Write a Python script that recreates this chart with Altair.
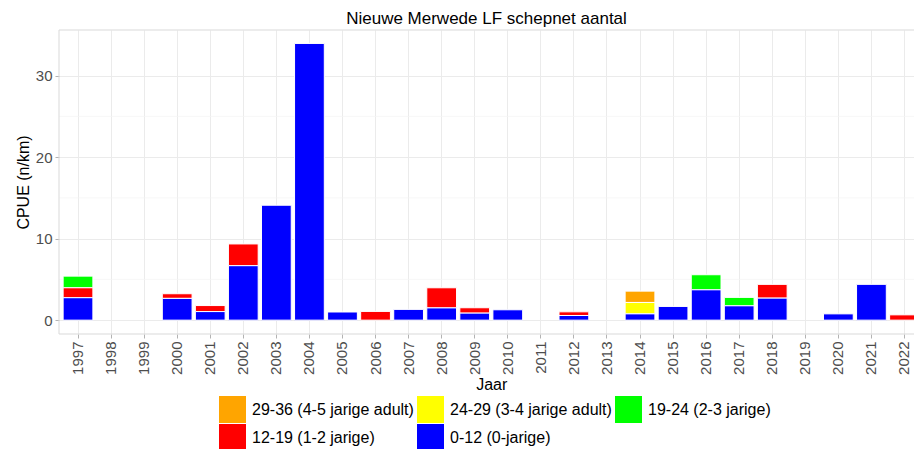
import altair as alt
import pandas as pd

years = list(range(1997, 2023))
classes = ["29-36 (4-5 jarige adult)", "24-29 (3-4 jarige adult)", "19-24 (2-3 jarige)",
           "12-19 (1-2 jarige)", "0-12 (0-jarige)"]
colors = ["#FFA500", "#FFFF00", "#00FF00", "#FF0000", "#0000FF"]
stack_rank = [4, 3, 2, 1, 0]

#        1997 1998 1999 2000  2001  2002  2003  2004  2005 2006  2007  2008  2009  2010  2011 2012  2013 2014  2015  2016  2017  2018  2019 2020  2021  2022
c0_12 = [2.75, 0, 0, 2.67, 1.05, 6.68, 14.1, 33.95, 1.0, 0, 1.32, 1.5, 0.86, 1.27, 0, 0.57, 0, 0.77, 1.68, 3.72, 1.76, 2.7, 0, 0.77, 4.39, 0]
c12_19 = [1.22, 0, 0, 0.57, 0.74, 2.67, 0, 0, 0, 1.07, 0, 2.47, 0.66, 0, 0, 0.45, 0, 0, 0, 0, 0, 1.69, 0, 0, 0, 0.65]
c19_24 = [1.43, 0, 0, 0, 0, 0, 0, 0, 0, 0, 0, 0, 0, 0, 0, 0, 0, 0, 0, 1.85, 1.03, 0, 0, 0, 0, 0]
c24_29 = [0, 0, 0, 0, 0, 0, 0, 0, 0, 0, 0, 0, 0, 0, 0, 0, 0, 1.4, 0, 0, 0, 0, 0, 0, 0, 0]
c29_36 = [0, 0, 0, 0, 0, 0, 0, 0, 0, 0, 0, 0, 0, 0, 0, 0, 0, 1.39, 0, 0, 0, 0, 0, 0, 0, 0]

series = [c29_36, c24_29, c19_24, c12_19, c0_12]
rows = []
for cls, rank, vals in zip(classes, stack_rank, series):
    for y, v in zip(years, vals):
        if v > 0:
            rows.append({"Jaar": str(y), "klasse": cls, "rank": rank, "cpue": v})
df = pd.DataFrame(rows)

FONT = "Liberation Sans"
year_labels = [str(y) for y in years]
W, H = 855, 304
X_RANGE = 864.5  # panel continues past the right edge of the picture
BORDER = "#d9d9d9"

bars = alt.Chart(df).mark_bar(stroke="white", strokeWidth=1).encode(
    x=alt.X("Jaar:N", scale=alt.Scale(domain=year_labels, paddingInner=0.1, paddingOuter=0.125,
                                      range=[0, X_RANGE]),
            axis=alt.Axis(title="Jaar", labelAngle=270, labelAlign="right", labelBaseline="middle",
                          labelFontSize=15, labelColor="#4d4d4d", labelPadding=3,
                          tickColor="#b3b3b3", tickSize=4, domain=False, grid=True,
                          gridColor="#ebebeb", gridWidth=1, bandPosition=0.5,
                          titleFontSize=16, titleColor="black", titleFontWeight="normal",
                          titlePadding=2)),
    y=alt.Y("cpue:Q", stack="zero",
            scale=alt.Scale(domain=[-1.7, 35.6], nice=False, zero=False),
            axis=alt.Axis(title="CPUE (n/km)", values=[0, 10, 20, 30], labelFontSize=15,
                          labelColor="#4d4d4d", tickColor="#b3b3b3", tickSize=4, domain=False,
                          grid=True, gridColor="#ebebeb", gridWidth=1, labelPadding=3,
                          titleFontSize=16, titleColor="black", titleFontWeight="normal",
                          titlePadding=4)),
    color=alt.Color("klasse:N", scale=alt.Scale(domain=classes, range=colors),
                    legend=alt.Legend(title=None, orient="none", legendX=160, legendY=366,
                                      direction="horizontal", columns=3, symbolType="square",
                                      symbolSize=729, symbolStrokeWidth=0, labelFontSize=16,
                                      labelColor="black", labelOffset=6, columnPadding=3,
                                      rowPadding=1, padding=0, labelLimit=300)),
    order=alt.Order("rank:Q", sort="ascending"),
)

minor_vals = pd.DataFrame({"v": [5, 15, 25]})
minor = alt.Chart(minor_vals).mark_rule(color="#f3f3f3", strokeWidth=0.7).encode(y="v:Q")

frame_df = pd.DataFrame({"b": [0]})
top_border = alt.Chart(frame_df).mark_rule(color=BORDER, strokeWidth=1).encode(
    x=alt.value(0), x2=alt.value(X_RANGE + 20), y=alt.value(0))
bottom_border = alt.Chart(frame_df).mark_rule(color=BORDER, strokeWidth=1).encode(
    x=alt.value(0), x2=alt.value(X_RANGE + 20), y=alt.value(H))
left_border = alt.Chart(frame_df).mark_rule(color=BORDER, strokeWidth=1).encode(
    x=alt.value(0), y=alt.value(0), y2=alt.value(H))

chart = alt.layer(minor, top_border, bottom_border, left_border, bars).properties(
    width=W, height=H,
    title=alt.TitleParams("Nieuwe Merwede LF schepnet aantal", fontSize=17, font=FONT,
                          fontWeight="normal", color="black", anchor="middle", offset=2),
    autosize=alt.AutoSizeParams(type="none"),
    padding={"left": 51, "top": 22, "right": 0, "bottom": 115},
).configure(font=FONT).configure_view(stroke=None)

chart.save("out.html", embed_options={"renderer": "svg", "actions": False})
